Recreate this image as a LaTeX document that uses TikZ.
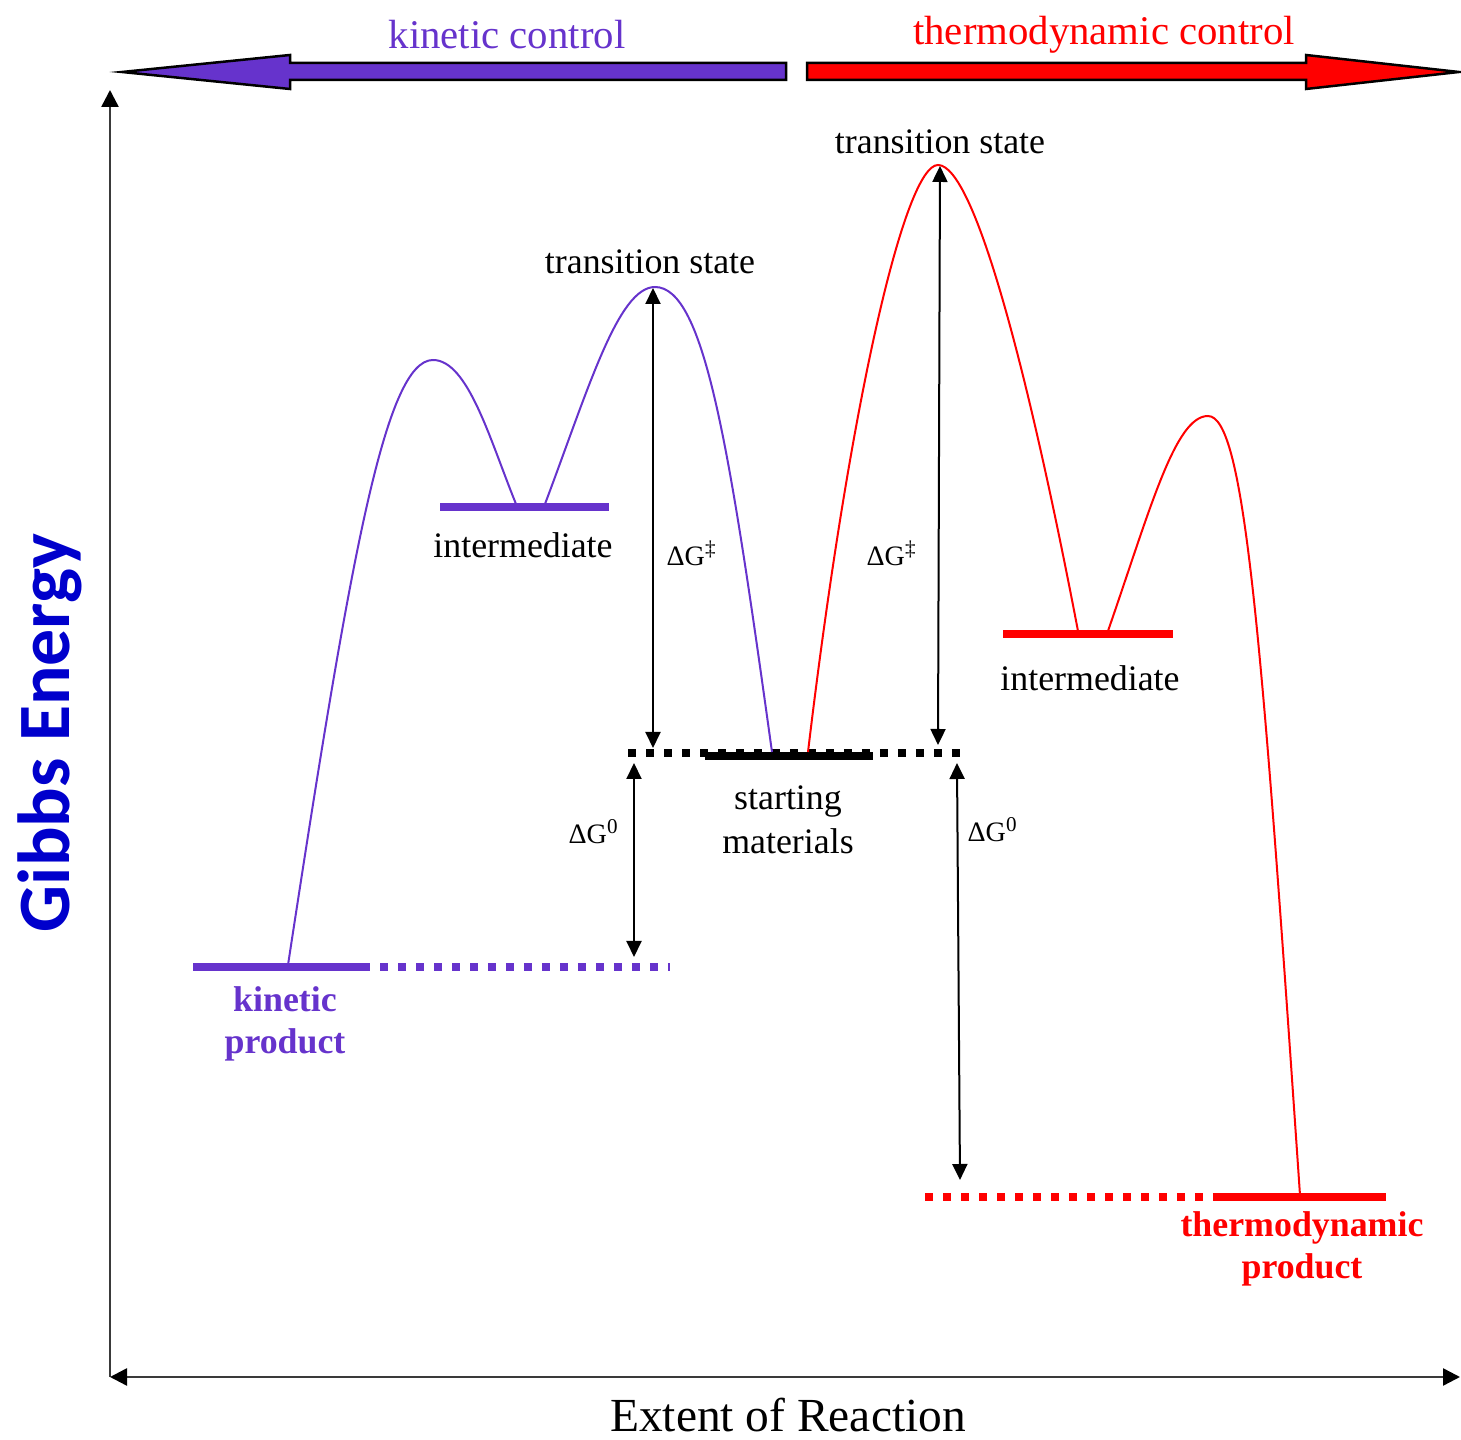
\documentclass[tikz,border=0pt]{standalone}
\usepackage{fontspec}
\setmainfont{Liberation Serif}
\newfontfamily\gibbsfont{Carlito}
\usetikzlibrary{arrows.meta}
\definecolor{kinpurple}{HTML}{6633CC}
\definecolor{thred}{HTML}{FF0000}
\definecolor{gibblue}{HTML}{0000CC}
\definecolor{axgray}{HTML}{3A3A3A}

\begin{document}
\begin{tikzpicture}[x=0.1mm, y=-0.1mm,
  >={Triangle[length=1.6mm, width=1.5mm]},
  level/.style={line width=0.85mm, #1},
  dotlevel/.style={line width=0.8mm, dash pattern=on 0.8mm off 1mm, #1},
  curve/.style={line width=0.2mm, #1},
  gap/.style={<->, line width=0.2mm, black},
  axis/.style={line width=0.25mm, axgray, >={Triangle[length=1.7mm, width=1.7mm, fill=black, color=black]}},
  bigarr/.style={draw=black, line width=0.25mm, fill=#1},
  lbl/.style={font=\fontsize{10.2}{12.5}\selectfont, align=center, inner sep=0pt},
  prodlbl/.style={font=\fontsize{10.2}{12}\selectfont\bfseries, text=#1, align=center, inner sep=0pt},
  dglbl/.style={font=\fontsize{8}{9}\selectfont, inner sep=0pt},
  ctrllbl/.style={font=\fontsize{11.6}{13}\selectfont, text=#1, inner sep=0pt},
]

% Frame
\useasboundingbox (0,0) rectangle (1461,1440);

% =============================================
% Control arrows
% =============================================
\draw[bigarr=kinpurple] (786,63) -- (290,63) -- (290,55) -- (122,72)
  -- (290,89) -- (290,80) -- (786,80) -- cycle;
\draw[bigarr=thred] (807,63) -- (1306,63) -- (1306,55) -- (1459,72)
  -- (1306,89) -- (1306,80) -- (807,80) -- cycle;

\node[ctrllbl=kinpurple] (kinctrl) at (507,35) {kinetic control};
\node[ctrllbl=thred] (thctrl) at (1104,35) {thermodynamic control};

% =============================================
% Axes
% =============================================
\coordinate (origin) at (110,1377);
\coordinate (ytop) at (110,90);
\coordinate (xend) at (1460,1377);

\draw[axis, ->] (origin) -- (ytop);
\draw[axis, <->] (origin) -- (xend);

\node[font=\gibbsfont\fontsize{21}{24}\selectfont\bfseries, text=gibblue,
  rotate=90, inner sep=0pt] (gibbs) at (50,733) {Gibbs Energy};
\node[font=\fontsize{13.5}{16}\selectfont, inner sep=0pt] (extent) at (788,1415)
  {Extent of Reaction};

% =============================================
% Energy levels
% =============================================
% starting materials
\draw[dotlevel=black] (628,753) -- (962,753);
\draw[level=black] (705,756) -- (873,756);
\node[lbl] (sm) at (788,820) {starting\\materials};

% kinetic side
\draw[level=kinpurple] (440,507) -- (609,507);
\node[lbl] (kint) at (523,545) {intermediate};
\draw[level=kinpurple] (193,967) -- (370,967);
\draw[dotlevel=kinpurple] (380,967) -- (670,967);
\node[prodlbl=kinpurple] (kprod) at (285,1024) {kinetic\\product};

% thermodynamic side
\draw[level=thred] (1003,634) -- (1173,634);
\node[lbl] (tint) at (1090,678) {intermediate};
\draw[level=thred] (1213,1197) -- (1386,1197);
\draw[dotlevel=thred] (925,1197) -- (1213,1197);
\node[prodlbl=thred] (tprod) at (1302,1249) {thermodynamic\\product};

% =============================================
% Reaction coordinate curves
% =============================================
\coordinate (kp) at (288,965);
\coordinate (kpk) at (433,360);
\coordinate (kil) at (516,504);
\coordinate (kir) at (545,504);
\coordinate (kts) at (655,287);
\coordinate (sml) at (772,752);
\coordinate (smr) at (808,752);
\coordinate (tts) at (938,165);
\coordinate (til) at (1078,631);
\coordinate (tir) at (1108,631);
\coordinate (tpk) at (1208,416);
\coordinate (tp) at (1300,1195);

\draw[curve=kinpurple] (kp) .. controls (350,560) and (385,360) .. (kpk)
  .. controls (468,360) and (490,440) .. (kil);
\draw[curve=kinpurple] (kir) .. controls (588,390) and (618,287) .. (kts)
  .. controls (705,287) and (730,450) .. (sml);
\draw[curve=thred] (smr) .. controls (850,400) and (905,165) .. (tts)
  .. controls (975,165) and (1030,380) .. (til);
\draw[curve=thred] (tir) .. controls (1150,510) and (1175,416) .. (tpk)
  .. controls (1245,416) and (1262,640) .. (tp);

\node[lbl] (ktslbl) at (650,262) {transition state};
\node[lbl] (ttslbl) at (940,142) {transition state};

% =============================================
% Energy gaps
% =============================================
\coordinate (kgt) at (653,288);
\coordinate (kgb) at (653,748);
\coordinate (kdt) at (634,763);
\coordinate (kdb) at (634,957);
\coordinate (tgt) at (940,166);
\coordinate (tgb) at (938,745);
\coordinate (tdt) at (957,763);
\coordinate (tdb) at (960,1180);

\draw[gap] (kgt) -- (kgb);
\draw[gap] (kdt) -- (kdb);
\draw[gap] (tgt) -- (tgb);
\draw[gap] (tdt) -- (tdb);

\node[dglbl] (kgl) at (692,553) {ΔG\textsuperscript{‡}};
\node[dglbl] (kdl) at (594,832) {ΔG\textsuperscript{0}};
\node[dglbl] (tgl) at (892,553) {ΔG\textsuperscript{‡}};
\node[dglbl] (tdl) at (993,830) {ΔG\textsuperscript{0}};

\end{tikzpicture}
\end{document}
